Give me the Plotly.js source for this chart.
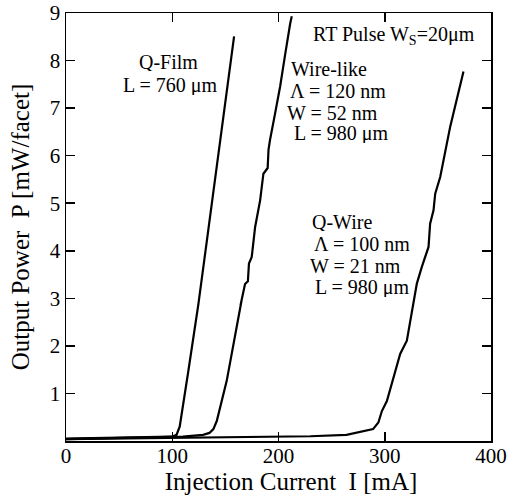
<!DOCTYPE html>
<html>
<head>
<meta charset="utf-8">
<script src="https://cdn.plot.ly/plotly-3.0.1.min.js"></script>
<style>html,body{margin:0;padding:0;background:#fff;}#chart{width:511px;height:497px;}</style>
</head>
<body>
<div id="chart"></div>
<script>
// Q-Film, L = 760 um
const qfilmI = [0, 40, 80, 100, 104, 107, 115, 124.6, 134, 143.4, 151, 158.2];
const qfilmP = [0.05, 0.06, 0.07, 0.09, 0.13, 0.3, 1.45, 2.88, 4.45, 6.03, 7.3, 8.51];

// Wire-like, Lambda = 120 nm, W = 52 nm, L = 980 um
const wireLikeI = [0, 60, 110, 129, 135, 138.7, 141.9, 151.3, 162.2, 165.2, 164.2, 168.5, 171.2, 172.2, 174.8, 178, 182.7, 185.8, 189.8, 190.6, 192, 196.8, 201.5, 206.2, 209.3, 211, 212.5];
const wireLikeP = [0.04, 0.06, 0.09, 0.13, 0.17, 0.25, 0.42, 1.27, 2.64, 2.95, 2.85, 3.3, 3.36, 3.73, 3.87, 4.5, 5.06, 5.62, 5.74, 6.12, 6.33, 6.89, 7.45, 8.12, 8.58, 8.78, 8.93];

// Q-Wire, Lambda = 100 nm, W = 21 nm, L = 980 um
const qwireI = [0, 100, 182.7, 230, 264, 277, 289, 294, 297.3, 302, 308.2, 314.5, 320.8, 327, 330.2, 334.9, 339.6, 341.2, 342.7, 345.9, 347.5, 352.2, 361.6, 374.1];
const qwireP = [0.04, 0.06, 0.08, 0.1, 0.13, 0.2, 0.25, 0.39, 0.63, 0.84, 1.34, 1.83, 2.11, 2.88, 3.31, 3.66, 3.94, 4.08, 4.57, 4.85, 5.2, 5.55, 6.61, 7.77];

const xTicks = [0, 100, 200, 300, 400];
const yTicks = [1, 2, 3, 4, 5, 6, 7, 8, 9];

const FONT = "'Liberation Serif', 'Times New Roman', serif";
const lineStyle = {color: '#000', width: 2.2};

const traces = [
  {x: qfilmI, y: qfilmP, mode: 'lines', line: lineStyle, name: 'Q-Film'},
  {x: wireLikeI, y: wireLikeP, mode: 'lines', line: lineStyle, name: 'Wire-like'},
  {x: qwireI, y: qwireP, mode: 'lines', line: lineStyle, name: 'Q-Wire'}
];

function ann(text, x, y, xanchor) {
  return {text: text, x: x, y: y, xref: 'paper', yref: 'paper', xanchor: xanchor, yanchor: 'middle',
          height: 19, showarrow: false, font: {family: FONT, size: 20, color: '#000'}};
}
// plot area: x 66..490.7, y 13..440.7
function px(xp) { return (xp - 66) / 424.7; }
function py(yp) { return (440.7 - yp) / 427.7; }

const annotations = [
  ann('Q-Film', px(168), py(61), 'center'),
  ann('L = 760 μm', px(170), py(85), 'center'),
  ann('RT Pulse W<sub>S</sub>=20μm', px(393.5), py(35), 'center'),
  ann('Wire-like', px(289), py(68), 'left'),
  ann('Λ = 120 nm', px(288), py(90.5), 'left'),
  ann('W = 52 nm', px(285), py(112), 'left'),
  ann('L = 980 μm', px(291.5), py(133.5), 'left'),
  ann('Q-Wire', px(310), py(221), 'left'),
  ann('Λ = 100 nm', px(311.5), py(243), 'left'),
  ann('W = 21 nm', px(308), py(265), 'left'),
  ann('L = 980 μm', px(313), py(287.5), 'left')
];

const layout = {
  width: 511, height: 497,
  margin: {l: 66, r: 20.3, t: 13, b: 56.3},
  paper_bgcolor: '#fff', plot_bgcolor: '#fff',
  showlegend: false,
  font: {family: FONT, color: '#000'},
  xaxis: {
    range: [0, 400], tickvals: xTicks, ticktext: xTicks.map(String),
    ticks: 'inside', ticklen: 9, tickwidth: 1.5, tickcolor: '#000',
    showline: true, linecolor: '#000', linewidth: 1.5, mirror: 'ticks',
    showgrid: false, zeroline: false, ticklabelstandoff: -5,
    tickfont: {family: FONT, size: 21, color: '#000'},
    title: {text: '&nbsp;&nbsp;&nbsp;&nbsp;Injection Current  I [mA]', font: {family: FONT, size: 25, color: '#000'}, standoff: 2}
  },
  yaxis: {
    range: [0, 9], tickvals: yTicks, ticktext: yTicks.map(String),
    ticks: 'inside', ticklen: 9, tickwidth: 1.5, tickcolor: '#000',
    showline: true, linecolor: '#000', linewidth: 1.5, mirror: 'ticks',
    showgrid: false, zeroline: false,
    tickfont: {family: FONT, size: 21, color: '#000'},
    title: {text: 'Output Power  P [mW/facet]', font: {family: FONT, size: 25, color: '#000'}, standoff: 13}
  },
  annotations: annotations
};

Plotly.newPlot('chart', traces, layout, {displayModeBar: false, staticPlot: true});
</script>
</body>
</html>
